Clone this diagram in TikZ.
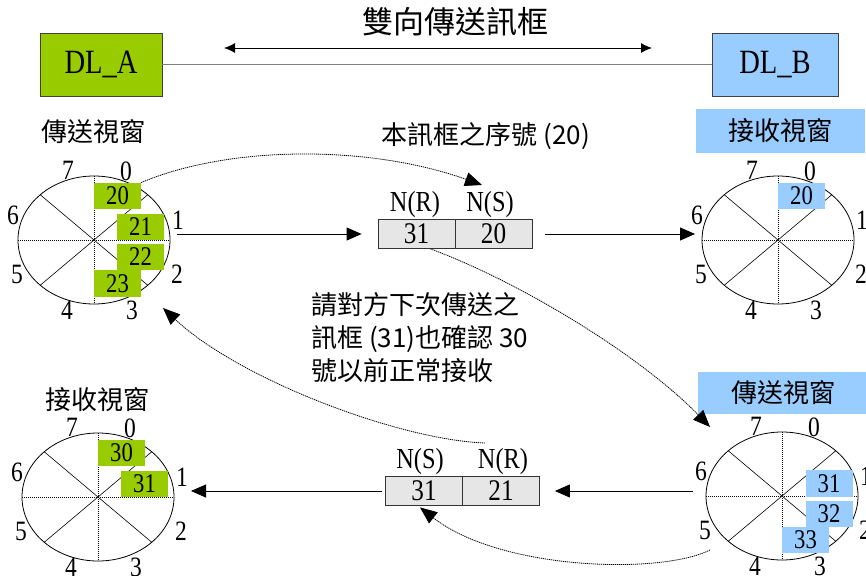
\documentclass[tikz,border=0pt]{standalone}
\usepackage{fontspec}
\setmainfont{Liberation Serif}
\newfontfamily\cjk{Noto Sans CJK TC}
\newfontfamily\narrowserif[FakeStretch=0.84]{Liberation Serif}
\usetikzlibrary{arrows.meta,shapes.geometric,calc}

\definecolor{winGreen}{HTML}{99CC00}
\definecolor{winBlue}{HTML}{99CCFF}
\definecolor{frameGray}{HTML}{E6E6E6}

\tikzset{
  dlbox/.style={draw=black!75, line width=0.8pt, minimum width=122pt, minimum height=63pt,
    inner sep=0pt, font=\narrowserif\fontsize{34}{34}\selectfont},
  wheel/.style={draw, ellipse, line width=0.8pt, minimum width=152pt, minimum height=128pt,
    inner sep=0pt, outer sep=0pt},
  spoke/.style={line width=0.6pt},
  axis/.style={line width=0.8pt, dash pattern=on 1.2pt off 0.8pt},
  digit/.style={inner sep=0pt, font=\narrowserif\fontsize{28}{28}\selectfont},
  slot/.style={minimum width=47pt, minimum height=26.5pt, inner sep=0pt,
    font=\narrowserif\fontsize{27}{27}\selectfont},
  cell/.style={draw=black!80, fill=frameGray, line width=0.8pt, minimum width=77pt,
    minimum height=29pt, inner sep=0pt, font=\narrowserif\fontsize{30}{30}\selectfont},
  field/.style={inner sep=0pt, font=\narrowserif\fontsize{29}{29}\selectfont},
  cjklabel/.style={inner sep=0pt, font=\cjk\fontsize{26}{26}\selectfont},
  flow/.style={line width=0.8pt, -{Triangle[length=15pt,width=13pt]}},
  hint/.style={line width=0.8pt, dash pattern=on 1.2pt off 0.8pt, -{Triangle[length=17pt,width=14pt]}},
}

% axes, diagonals and the eight sequence numbers of a sliding-window wheel
\newcommand\wheelspokes[1]{%
  \draw[axis] (#1.west) -- (#1.east) (#1.north) -- (#1.south);
  \draw[spoke] ([shift={(-53.7,-45.2)}]#1.center) -- ([shift={(53.7,45.2)}]#1.center)
               ([shift={(-53.7,45.2)}]#1.center) -- ([shift={(53.7,-45.2)}]#1.center);
  \foreach \n/\dx/\dy in {0/32/-69, 1/84/-20, 2/83/34, 3/38/70, 4/-27/70, 5/-77/34, 6/-81/-25, 7/-26/-70}
    \node[digit] (#1-\n) at ([shift={(\dx,\dy)}]#1.center) {\n};
}

\begin{document}
\begin{tikzpicture}[x=1pt,y=-1pt]
\useasboundingbox (0,0) rectangle (866,575);

% --- the two data-link entities ---
\node[dlbox, fill=winGreen] (dlA) at (101,64.5) {DL\_A};
\node[dlbox, fill=winBlue, minimum width=126pt] (dlB) at (775,64.5) {DL\_B};
\draw[gray, line width=0.8pt] (dlA) -- (dlB);
\node[cjklabel, font=\cjk\fontsize{31}{31}\selectfont] (title) at (455,22) {雙向傳送訊框};
\coordinate (duplexL) at (224,48);
\coordinate (duplexR) at (652,48);
\draw[line width=0.9pt, {Latex[length=11pt,width=10pt]}-{Latex[length=11pt,width=10pt]}] (duplexL) -- (duplexR);

% --- wheels ---
\node[wheel] (sendA) at (94,240) {};
\node[wheel] (recvB) at (778,240) {};
\node[wheel] (recvA) at (98,497) {};
\node[wheel] (sendB) at (782,496) {};
\wheelspokes{sendA}
\wheelspokes{recvB}
\wheelspokes{recvA}
\wheelspokes{sendB}

% occupied window slots
\node[slot, fill=winGreen] (sa20) at ([shift={(23.5,-44)}]sendA.center) {20};
\node[slot, fill=winGreen] (sa21) at ([shift={(46.5,-13)}]sendA.center) {21};
\node[slot, fill=winGreen] (sa22) at ([shift={(46.5,17)}]sendA.center) {22};
\node[slot, fill=winGreen] (sa23) at ([shift={(23.5,43.5)}]sendA.center) {23};
\node[slot, fill=winBlue] (rb20) at ([shift={(23.5,-44)}]recvB.center) {20};
\node[slot, fill=winGreen] (ra30) at ([shift={(23.5,-44)}]recvA.center) {30};
\node[slot, fill=winGreen] (ra31) at ([shift={(46.5,-13)}]recvA.center) {31};
\node[slot, fill=winBlue] (sb31) at ([shift={(47,-12.5)}]sendB.center) {31};
\node[slot, fill=winBlue] (sb32) at ([shift={(47,18)}]sendB.center) {32};
\node[slot, fill=winBlue] (sb33) at ([shift={(23.5,44)}]sendB.center) {33};

% window titles
\node[cjklabel] (sendA-title) at (93,132) {傳送視窗};
\node[cjklabel, fill=winBlue, minimum width=169pt, minimum height=44pt] (recvB-title) at (780.5,131) {接收視窗};
\node[cjklabel] (recvA-title) at (97,400) {接收視窗};
\node[cjklabel, fill=winBlue, minimum width=170pt, minimum height=42pt] (sendB-title) at (783,393) {傳送視窗};

% --- frames in transit ---
\node[cell] (fwdR) at (416.5,234) {31};
\node[cell] (fwdS) at (493.5,234) {20};
\node[field] (fwdR-lbl) at (415,205) {N(R)};
\node[field] (fwdS-lbl) at (490,205) {N(S)};
\node[cell] (bwdS) at (424,491) {31};
\node[cell] (bwdR) at (501,491) {21};
\node[field] (bwdS-lbl) at (420,462) {N(S)};
\node[field] (bwdR-lbl) at (503,462) {N(R)};

% notes
\node[cjklabel] (seqnote) at (486,136) {本訊框之序號 (20)};
\node[cjklabel, align=left, anchor=west, font=\cjk\fontsize{26}{33}\selectfont] (acknote) at (311,338)
  {請對方下次傳送之\\訊框 (31)也確認 30\\號以前正常接收};

% --- frame flow ---
\coordinate (sendA-out) at (177,234);
\draw[flow, shorten >=16pt] (sendA-out) -- (fwdR.west);
\coordinate (recvB-in) at (695,234);
\draw[flow, shorten <=13pt] (fwdS.east) -- (recvB-in);
\coordinate (sendB-out) at (693,491);
\draw[flow, shorten >=15pt] (sendB-out) -- (bwdR.east);
\coordinate (recvA-in) at (191,491);
\draw[flow, shorten <=3pt] (bwdS.west) -- (recvA-in);

% --- explanatory dotted arrows ---
\coordinate (fwd-tip) at (482,185);
\draw[hint] (sa20.north east) .. controls (230,145) and (370,145) .. (fwd-tip);
\coordinate (sendB-tip) at (710,427);
\draw[hint] ([xshift=14pt]fwdR.south) .. controls (520,282) and (640,355) .. (sendB-tip);
\coordinate (ack-start) at (485,443);
\coordinate (sendA-tip) at (163,308);
\draw[hint] (ack-start) .. controls (400,440) and (240,380) .. (sendA-tip);
\coordinate (sendB-low) at (710,550);
\draw[hint] (sendB-low) .. controls (660,575) and (500,570) .. ([xshift=-4pt,yshift=-1.5pt]bwdS.south);
\end{tikzpicture}
\end{document}
